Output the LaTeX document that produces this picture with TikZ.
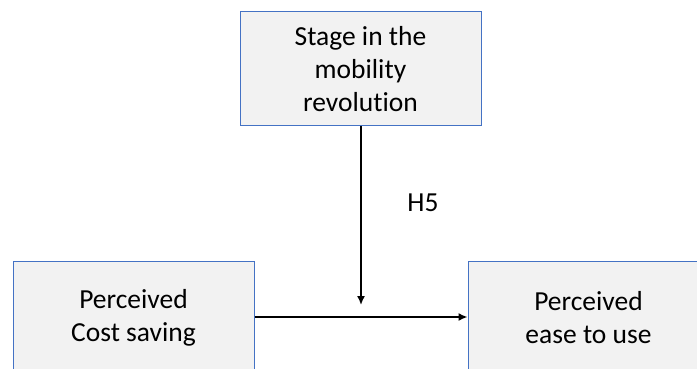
\documentclass[tikz,border=0pt]{standalone}
\usepackage{fontspec}
\setmainfont{Carlito}[Ligatures={NoCommon,NoRequired,NoContextual}]
\usetikzlibrary{arrows.meta}
\definecolor{boxfill}{HTML}{F2F2F2}
\definecolor{boxline}{HTML}{4472C4}
\tikzset{
  varbox/.style={draw=boxline, fill=boxfill, line width=1pt, minimum width=241pt, minimum height=114pt, inner sep=0pt, align=center, font=\fontsize{27.5}{33}\selectfont},
  link/.style={line width=1.6pt, -{Latex[length=9pt,width=8pt]}}
}
\begin{document}
\begin{tikzpicture}[x=1pt,y=-1pt]
\useasboundingbox (0,0) rectangle (697,369);
\clip (0,0) rectangle (697,369);
\node[varbox] (stage) at (360.5,69) {Stage in the\\mobility\\revolution};
\node[varbox] (cost) at (133.5,318) {Perceived\\Cost saving};
\node[varbox] (ease) at (588.5,318) {Perceived\\ease to use};
\coordinate (meet) at (361,305);
\draw[link] (stage.south -| meet) -- (meet);
\draw[link] (cost.east |- 0,317) -- (ease.west |- 0,317);
\node[font=\fontsize{27.5}{33}\selectfont] (h5) at (423,203) {H5};
\end{tikzpicture}
\end{document}
